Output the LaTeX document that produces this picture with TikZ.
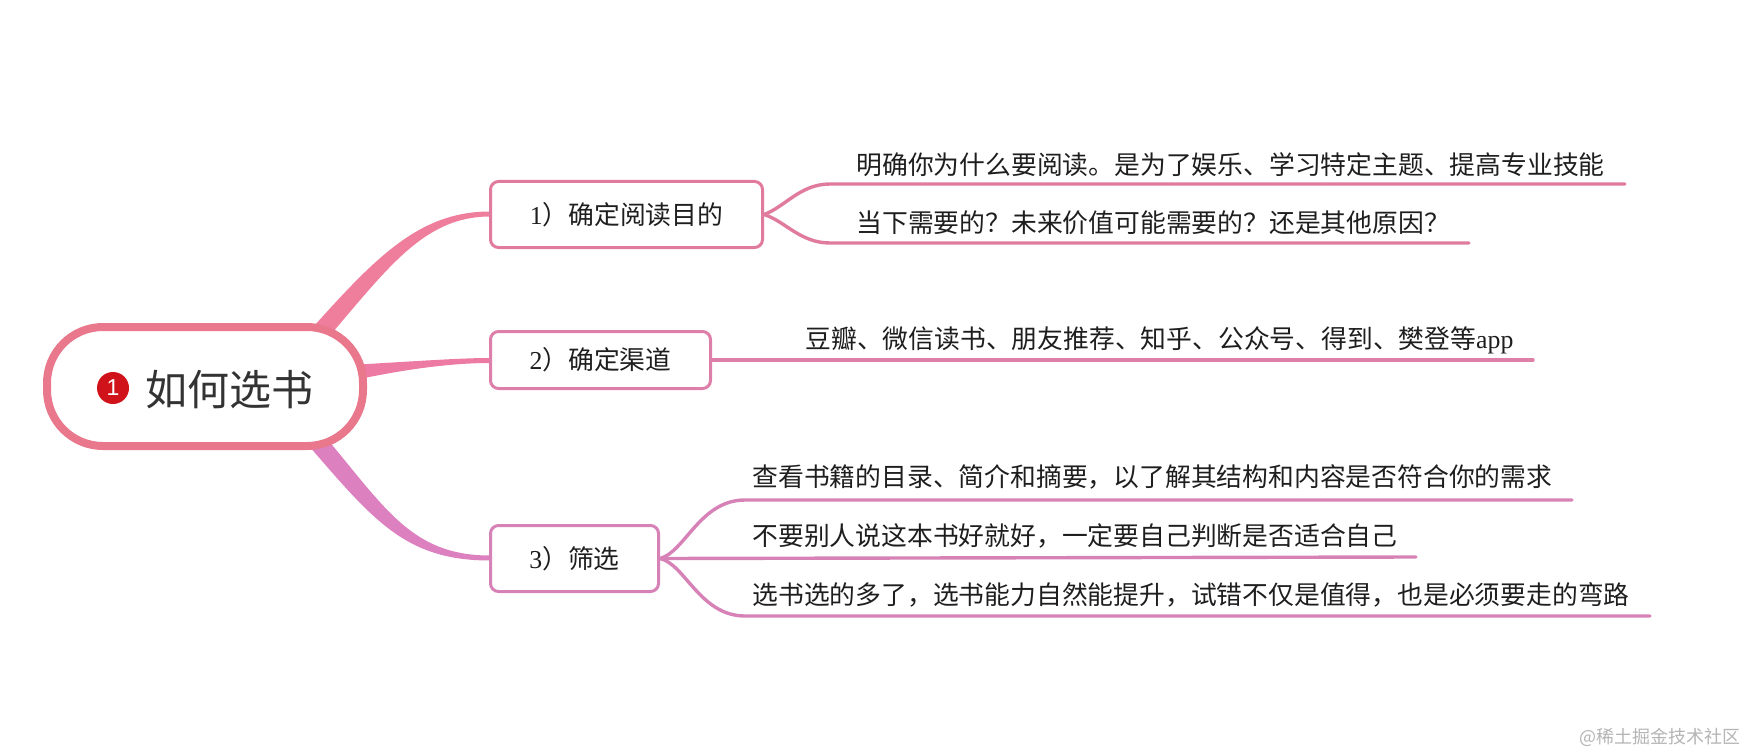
\documentclass[tikz,border=0pt]{standalone}
\usepackage{fontspec}
\setmainfont{Liberation Serif}
\newfontfamily\cjk{Noto Sans CJK SC}
\newfontfamily\numfont{Liberation Sans}
\definecolor{rootc}{HTML}{E9788D}
\definecolor{brA}{HTML}{EF7E9D}
\definecolor{brB}{HTML}{EC7AA2}
\definecolor{brC}{HTML}{DC80BF}
\definecolor{boxA}{HTML}{E07B9E}
\definecolor{boxB}{HTML}{DD7FA8}
\definecolor{boxC}{HTML}{D682B6}
\definecolor{dotred}{HTML}{D0121B}
\definecolor{txt}{HTML}{1E1E1E}
\definecolor{roottxt}{HTML}{333333}
\definecolor{wm}{HTML}{B4B4B4}
\tikzset{
  boxnode/.style={draw, line width=1.5pt, rounded corners=4pt, fill=white, text=txt, inner sep=0pt,
    font=\fontsize{12.9pt}{15pt}\selectfont},
  leaf/.style={anchor=west, inner sep=0pt, text=txt, font=\fontsize{12.9pt}{15pt}\selectfont},
  conn/.style={line width=1.7pt, line cap=round},
}
\begin{document}
\begin{tikzpicture}[x=0.5pt,y=-0.5pt]
\useasboundingbox (0,0) rectangle (1748,754);

% tapered branches from root to boxes
\fill[brA] (306,335) .. controls (374,259) and (418,211.5) .. (490,211.5)
  -- (490,216.5) .. controls (422,216.5) and (386,271) .. (320,347) -- cycle;
\fill[brB] (350,365) .. controls (420,361) and (460,358) .. (490,358)
  -- (490,363) .. controls (455,363) and (410,368) .. (350,381) -- cycle;
\fill[brC] (323,434) .. controls (386,509) and (412,555.5) .. (490,555.5)
  -- (490,560.5) .. controls (406,560.5) and (374,521) .. (309,446) -- cycle;

% root
\node[draw=rootc, line width=4pt, fill=white, rounded corners=28pt,
  minimum width=158pt, minimum height=59.5pt] (root) at (205,386.5) {};
\node[circle, fill=dotred, minimum size=16pt, inner sep=0pt, text=white,
  font=\numfont\fontsize{11.5pt}{12pt}\selectfont] (dot) at (113,388) {1};
\node[anchor=west, inner sep=0pt, text=roottxt,
  font=\cjk\fontsize{21pt}{25pt}\selectfont] (roottext) at (145,390) {如何选书};

% second level boxes
\node[boxnode, draw=boxA, minimum width=136pt, minimum height=33pt] (b1) at (626.5,214.5) {1{\cjk ）确定阅读目的}};
\node[boxnode, draw=boxB, minimum width=110pt, minimum height=28.5pt] (b2) at (600.5,360) {2{\cjk ）确定渠道}};
\node[boxnode, draw=boxC, minimum width=84pt, minimum height=33pt] (b3) at (574.5,558.5) {3{\cjk ）筛选}};

% leaves
\node[leaf] (l1a) at (856,165) {\cjk 明确你为什么要阅读。是为了娱乐、学习特定主题、提高专业技能};
\node[leaf] (l1b) at (856,223) {\cjk 当下需要的？未来价值可能需要的？还是其他原因？};
\node[leaf] (l2) at (805,340) {{\cjk 豆瓣、微信读书、朋友推荐、知乎、公众号、得到、樊登等}app};
\node[leaf] (l3a) at (752,477) {\cjk 查看书籍的目录、简介和摘要，以了解其结构和内容是否符合你的需求};
\node[leaf] (l3b) at (752,536) {\cjk 不要别人说这本书好就好，一定要自己判断是否适合自己};
\node[leaf] (l3c) at (752,595) {\cjk 选书选的多了，选书能力自然能提升，试错不仅是值得，也是必须要走的弯路};

% line ends
\coordinate (e1a) at (1625,184);
\coordinate (e1b) at (1469,243);
\coordinate (e2) at (1533,360);
\coordinate (e3a) at (1572,500);
\coordinate (e3b) at (1416,557);
\coordinate (e3c) at (1650,616);

% connectors
\draw[conn, boxA] (b1.east) .. controls (785,207) and (800,184) .. (830,184) -- (e1a);
\draw[conn, boxA] (b1.east) .. controls (785,221) and (800,243) .. (830,243) -- (e1b);
\draw[conn, boxB] (b2.east) -- (e2);
\draw[conn, boxC] (b3.east) .. controls (685,552) and (700,500) .. (745,500) -- (e3a);
\draw[conn, boxC] (b3.east) -- (e3b);
\draw[conn, boxC] (b3.east) .. controls (685,564) and (700,616) .. (745,616) -- (e3c);

% watermark
\node[anchor=east, inner sep=0pt, text=wm, font=\cjk\fontsize{9pt}{11pt}\selectfont] (wmark) at (1741,737) {@稀土掘金技术社区};
\end{tikzpicture}
\end{document}
